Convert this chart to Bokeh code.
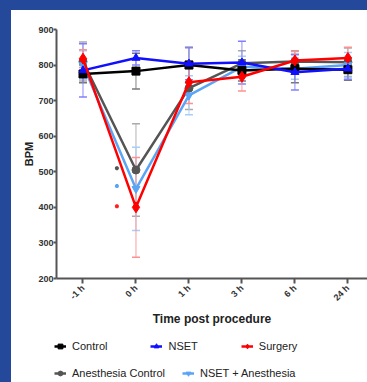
import math
from bokeh.plotting import figure
from bokeh.layouts import column
from bokeh.models import (ColumnDataSource, Whisker, TeeHead, Legend, LegendItem,
                          FixedTicker, Range1d)
from bokeh.embed import file_html
from bokeh.resources import INLINE

# ---- data ----
timepoints = ["-1 h", "0 h", "1 h", "3 h", "6 h", "24 h"]
x_pos = [1, 2, 3, 4, 5, 6]

control = [775, 783, 800, 785, 790, 787]
control_err = [25, 50, 50, 30, 40, 30]
nset = [785, 820, 804, 807, 780, 790]
nset_err = [75, 20, 45, 60, 50, 30]
surgery = [818, 400, 752, 767, 813, 820]
surgery_err = [25, 140, 60, 40, 25, 30]
anes_control = [810, 505, 735, 805, 810, 808]
anes_control_err = [55, 130, 60, 35, 30, 40]
nset_anes = [800, 452, 715, 795, 790, 800]
nset_anes_err = [40, 117, 55, 30, 30, 35]

asterisk_x = [1.64, 1.64, 1.64]
asterisk_y = [510, 460, 403]
asterisk_colors = ["#555555", "#5aa5f5", "#ff2020"]

series = [
    ("Anesthesia Control", anes_control, anes_control_err, "#555555", "#aaaaaa", "circle"),
    ("NSET + Anesthesia", nset_anes, nset_anes_err, "#5aa5f5", "#a8cdf8", "inverted_triangle"),
    ("Control", control, control_err, "#000000", "#777777", "square"),
    ("NSET", nset, nset_err, "#1010ff", "#8080ff", "triangle"),
    ("Surgery", surgery, surgery_err, "#ff0000", "#ff9090", "diamond"),
]

FONT = "Liberation Sans"

p = figure(width=356, height=320, output_backend="svg", toolbar_location=None,
           x_range=Range1d(0.5, 6.37), y_range=Range1d(200, 900),
           min_border_left=45, min_border_top=19, min_border_right=0,
           min_border_bottom=52)
p.outline_line_color = None
p.grid.visible = False
p.background_fill_color = "white"
p.border_fill_color = "white"

for name, vals, errs, col, ecol, mk in series:
    src = ColumnDataSource(dict(x=x_pos, y=vals,
                                upper=[v + e for v, e in zip(vals, errs)],
                                lower=[v - e for v, e in zip(vals, errs)]))
    w = Whisker(base="x", upper="upper", lower="lower", source=src,
                line_color=ecol, line_width=1, line_alpha=0.9,
                upper_head=TeeHead(size=8, line_color=ecol, line_width=1.5),
                lower_head=TeeHead(size=8, line_color=ecol, line_width=1.5))
    p.add_layout(w)

for name, vals, errs, col, ecol, mk in series:
    src = ColumnDataSource(dict(x=x_pos, y=vals))
    p.line("x", "y", source=src, line_color=col, line_width=2.5)
    p.scatter("x", "y", source=src, marker=mk, size=8 if mk != "diamond" else 11,
              fill_color=col, line_color=col)

p.scatter(asterisk_x, asterisk_y, marker="asterisk", size=4, line_color=asterisk_colors,
          line_width=1.5)

# axes
p.xaxis.ticker = FixedTicker(ticks=x_pos)
p.xaxis.major_label_overrides = {x: t for x, t in zip(x_pos, timepoints)}
p.xaxis.major_label_orientation = math.pi / 4
p.xaxis.axis_label = "Time post procedure"
p.yaxis.axis_label = "BPM"
p.yaxis.ticker = FixedTicker(ticks=[200, 300, 400, 500, 600, 700, 800, 900])
for ax in (p.xaxis, p.yaxis):
    ax.axis_line_color = "#555555"
    ax.axis_line_width = 2
    ax.major_tick_line_color = "#555555"
    ax.major_tick_line_width = 2
    ax.major_tick_in = 0
    ax.minor_tick_line_color = None
    ax.major_label_text_font = FONT
    ax.major_label_text_font_style = "bold"
    ax.major_label_text_font_size = "9px"
    ax.major_label_text_color = "#333333"
    ax.axis_label_text_font = FONT
    ax.axis_label_text_font_style = "bold"
    ax.axis_label_text_color = "#222222"
p.xaxis.major_tick_out = 5
p.yaxis.major_tick_out = 3
p.xaxis.axis_label_text_font_size = "12px"
p.yaxis.axis_label_text_font_size = "11px"
p.xaxis.major_label_standoff = 3
p.yaxis.major_label_standoff = 0
p.xaxis.axis_label_standoff = 3
p.yaxis.axis_label_standoff = 0

# ---- legend strip (separate figure so the legend is not clipped) ----
p2 = figure(width=356, height=52, output_backend="svg", toolbar_location=None,
            x_range=Range1d(0, 356), y_range=Range1d(0, 52),
            x_axis_location=None, y_axis_location=None,
            min_border_left=0, min_border_right=0,
            min_border_top=0, min_border_bottom=0)
p2.grid.visible = False
p2.outline_line_color = None
p2.border_fill_color = "white"
p2.background_fill_color = "white"
for fig in (p, p2):
    if "frame_align" in fig.properties():
        fig.frame_align = False

leg_r = {}
for name, vals, errs, col, ecol, mk in series:
    hidden = ColumnDataSource(dict(x=[-1000], y=[-1000]))  # off-screen, legend key only
    l = p2.line("x", "y", source=hidden, line_color=col, line_width=2.5)
    s = p2.scatter("x", "y", source=hidden, marker=mk, size=7 if mk != "diamond" else 10,
                   fill_color=col, line_color=col)
    leg_r[name] = [l, s]

def make_legend(names, spacing, loc):
    return Legend(items=[LegendItem(label=n, renderers=leg_r[n]) for n in names],
                  orientation="horizontal", spacing=spacing, padding=0, margin=0,
                  border_line_color=None, background_fill_alpha=0,
                  label_text_font=FONT, label_text_font_size="11px",
                  label_text_color="#222222", glyph_width=12, glyph_height=12,
                  label_height=12, label_standoff=6, location=loc)

p2.add_layout(make_legend(["Control", "NSET", "Surgery"], 43, (43, 30)))
p2.add_layout(make_legend(["Anesthesia Control", "NSET + Anesthesia"], 17, (43, 3)))

layout = column(p, p2, spacing=0, styles={"background-color": "white"})

html = file_html(layout, INLINE)
html = html.replace("</head>",
                    "<style>html,body{background-color:#24489a !important;}"
                    "body{margin:10px 0 0 11px !important;}</style></head>", 1)
open("out.html", "w").write(html)
